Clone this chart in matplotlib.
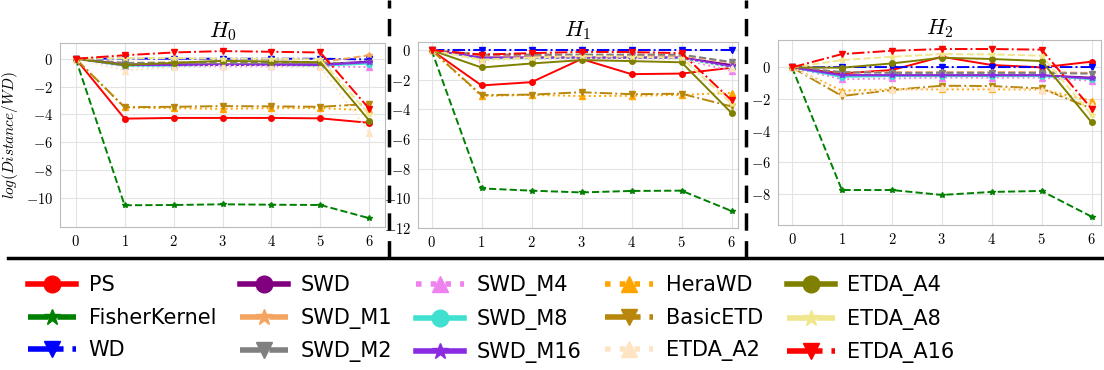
import matplotlib
matplotlib.use("Agg")
import matplotlib.pyplot as plt
from matplotlib.lines import Line2D
from matplotlib.ticker import FuncFormatter

plt.rcParams["mathtext.fontset"] = "cm"
plt.rcParams["font.family"] = "DejaVu Sans"

# dados
passos = [0, 1, 2, 3, 4, 5, 6]
metodos = ["PS", "FisherKernel", "WD", "SWD", "SWD_M1", "SWD_M2", "SWD_M4",
           "SWD_M8", "SWD_M16", "HeraWD", "BasicETD", "ETDA_A2", "ETDA_A4",
           "ETDA_A8", "ETDA_A16"]

h0 = {
    "PS": [0, -4.3, -4.25, -4.25, -4.25, -4.28, -4.6],
    "FisherKernel": [0, -10.52, -10.5, -10.45, -10.48, -10.5, -11.45],
    "WD": [0, 0.02, 0, 0, 0, 0, -0.05],
    "SWD": [0, -0.4, -0.4, -0.4, -0.4, -0.4, -0.2],
    "SWD_M1": [0, -0.3, -0.25, -0.2, -0.2, -0.25, 0.25],
    "SWD_M2": [0, -0.3, -0.3, -0.3, -0.3, -0.3, -0.3],
    "SWD_M4": [0, -0.55, -0.55, -0.55, -0.55, -0.55, -0.6],
    "SWD_M8": [0, -0.5, -0.5, -0.45, -0.45, -0.5, -0.35],
    "SWD_M16": [0, -0.45, -0.45, -0.45, -0.45, -0.45, -0.25],
    "HeraWD": [0, -3.5, -3.55, -3.6, -3.55, -3.55, -3.7],
    "BasicETD": [0, -3.48, -3.45, -3.4, -3.42, -3.45, -3.25],
    "ETDA_A2": [0, -0.85, -0.6, -0.5, -0.55, -0.6, -5.3],
    "ETDA_A4": [0, -0.45, -0.3, -0.15, -0.2, -0.25, -4.45],
    "ETDA_A8": [0, 0.05, 0.05, 0.0, 0.0, -0.05, -4.0],
    "ETDA_A16": [0, 0.25, 0.45, 0.55, 0.5, 0.45, -3.6],
}

h1 = {
    "PS": [0, -2.38, -2.16, -0.6, -1.62, -1.58, -1.19],
    "FisherKernel": [0, -9.33, -9.48, -9.6, -9.5, -9.48, -10.85],
    "WD": [0, 0, 0, 0, 0, 0, 0],
    "SWD": [0, -0.5, -0.5, -0.5, -0.5, -0.5, -1.0],
    "SWD_M1": [0, -0.4, -0.4, -0.35, -0.35, -0.35, -0.85],
    "SWD_M2": [0, -0.3, -0.3, -0.3, -0.3, -0.3, -0.8],
    "SWD_M4": [0, -0.6, -0.6, -0.55, -0.55, -0.6, -1.4],
    "SWD_M8": [0, -0.55, -0.55, -0.5, -0.5, -0.55, -1.15],
    "SWD_M16": [0, -0.5, -0.5, -0.5, -0.5, -0.5, -1.1],
    "HeraWD": [0, -3.1, -3.02, -3.1, -3.08, -3.02, -2.88],
    "BasicETD": [0, -3.03, -3.0, -2.84, -2.97, -2.94, -3.8],
    "ETDA_A2": [0, -0.7, -0.6, -0.55, -0.6, -0.6, -1.2],
    "ETDA_A4": [0, -1.17, -0.9, -0.67, -0.74, -0.82, -4.24],
    "ETDA_A8": [0, -0.65, -0.5, -0.4, -0.45, -0.5, -3.6],
    "ETDA_A16": [0, -0.3, -0.2, -0.12, -0.13, -0.2, -3.38],
}

h2 = {
    "PS": [0, -0.38, -0.17, 0.67, 0.15, 0, 0.36],
    "FisherKernel": [0, -7.75, -7.75, -8.06, -7.87, -7.81, -9.43],
    "WD": [0, 0.02, 0.02, 0.02, 0.02, 0.02, 0.02],
    "SWD": [0, -0.5, -0.5, -0.5, -0.5, -0.5, -0.65],
    "SWD_M1": [0, -0.3, -0.3, -0.3, -0.3, -0.3, -0.35],
    "SWD_M2": [0, -0.3, -0.35, -0.35, -0.35, -0.35, -0.4],
    "SWD_M4": [0, -0.75, -0.7, -0.65, -0.65, -0.65, -0.85],
    "SWD_M8": [0, -0.6, -0.55, -0.55, -0.55, -0.55, -0.75],
    "SWD_M16": [0, -0.5, -0.5, -0.5, -0.5, -0.5, -0.7],
    "HeraWD": [0, -1.47, -1.39, -1.39, -1.39, -1.4, -2.1],
    "BasicETD": [0, -1.81, -1.43, -1.16, -1.18, -1.33, -2.6],
    "ETDA_A2": [0, -1.6, -1.45, -1.3, -1.3, -1.4, -2.4],
    "ETDA_A4": [0, -0.02, 0.25, 0.61, 0.53, 0.4, -3.47],
    "ETDA_A8": [0, 0.46, 0.67, 0.84, 0.82, 0.74, -3.0],
    "ETDA_A16": [0, 0.84, 1.05, 1.16, 1.16, 1.12, -2.61],
}

estilos = {
    "PS": ("red", "-", "o"),
    "FisherKernel": ("green", "--", "*"),
    "WD": ("blue", "-.", "v"),
    "SWD": ("purple", "-", "o"),
    "SWD_M1": ("sandybrown", "--", "*"),
    "SWD_M2": ("gray", "--", "v"),
    "SWD_M4": ("violet", ":", "^"),
    "SWD_M8": ("turquoise", "-", "o"),
    "SWD_M16": ("blueviolet", "-", "*"),
    "HeraWD": ("orange", ":", "^"),
    "BasicETD": ("darkgoldenrod", "-.", "v"),
    "ETDA_A2": ("bisque", ":", "^"),
    "ETDA_A4": ("olive", "-", "o"),
    "ETDA_A8": ("khaki", "--", "*"),
    "ETDA_A16": ("red", "-.", "v"),
}

W, H = 1104, 370
fig = plt.figure(figsize=(W / 100, H / 100), dpi=100)


def caixa(x0, x1, y0, y1):
    return [x0 / W, 1 - y1 / H, (x1 - x0) / W, (y1 - y0) / H]


paineis = [
    (h0, r"$H_0$", caixa(60, 385, 43, 227), (-0.32, 6.32), (-12.08, 1.13), [0, -2, -4, -6, -8, -10]),
    (h1, r"$H_1$", caixa(418, 738, 42, 228), (-0.27, 6.13), (-12.0, 0.55), [0, -2, -4, -6, -8, -10, -12]),
    (h2, r"$H_2$", caixa(778, 1101, 40, 225), (-0.28, 6.19), (-9.96, 1.73), [0, -2, -4, -6, -8]),
]

fmt = FuncFormatter(lambda v, p: r"$%d$" % v)

for i, (dados, titulo, pos, xl, yl, yt) in enumerate(paineis):
    ax = fig.add_axes(pos)
    for m in metodos:
        cor, ls, mk = estilos[m]
        ax.plot(passos, dados[m], color=cor, linestyle=ls, marker=mk,
                markersize=4, linewidth=1.4, label=m)
    ax.set_xlim(*xl)
    ax.set_ylim(*yl)
    ax.set_xticks(passos)
    ax.set_yticks(yt)
    ax.xaxis.set_major_formatter(fmt)
    ax.yaxis.set_major_formatter(fmt)
    ax.tick_params(length=0, labelsize=10.5, pad=5)
    ax.grid(True, color="#e3e3e3", linewidth=0.8)
    ax.set_axisbelow(True)
    for s in ax.spines.values():
        s.set_color("#bbbbbb")
        s.set_linewidth(0.8)
    ax.set_title(titulo, fontsize=16, pad=4)
    if i == 0:
        ax.set_ylabel(r"$log(Distance/WD)$", fontsize=11, labelpad=4)

# separadores
for xs in [389, 746]:
    fig.add_artist(Line2D([xs / W, xs / W], [1 - 258 / H, 1.0], color="black",
                          linestyle=(0, (5, 3)), linewidth=2.5))
fig.add_artist(Line2D([8 / W, 1.0], [1 - 258 / H] * 2, color="black", linewidth=2.5))

handles, labels = fig.axes[0].get_legend_handles_labels()
leg = fig.legend(handles, labels, ncol=5, loc="upper left",
                 bbox_to_anchor=(20 / W, 1 - 267 / H), frameon=False,
                 fontsize=15, handlelength=2.3, columnspacing=1.15,
                 labelspacing=0.6, handletextpad=0.6, borderaxespad=0)
for h in leg.legend_handles:
    h.set_linewidth(4)
    h.set_markersize(12)

fig.savefig("out.png", dpi=100)
